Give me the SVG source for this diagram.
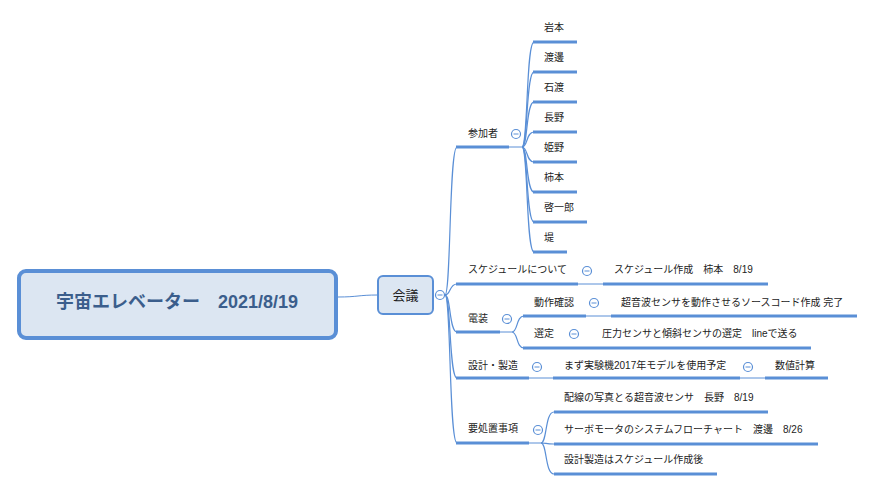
<svg xmlns="http://www.w3.org/2000/svg" width="874" height="491" viewBox="0 0 874 491">
<style>
text{font-family:"Liberation Sans","Noto Sans CJK JP",sans-serif;fill:#222;font-size:10px}
.root{font-size:18px;font-weight:bold;fill:#3b5e8c}
.mid{font-size:13px}
.ul{stroke:#5a8fd6;stroke-width:3;fill:none}
.cv{stroke:#5a8fd6;stroke-width:1.2;fill:none}
.th{stroke:#5a8fd6;stroke-width:1;fill:none}
.col{fill:#fff;stroke:#5a8fd6;stroke-width:1.2}
.mn{stroke:#5a8fd6;stroke-width:1}
</style>
<defs>
<g id="c"><circle class="col" cx="0" cy="0" r="4.5"/><line class="mn" x1="-2.5" y1="0" x2="2.5" y2="0"/></g>
</defs>
<rect width="874" height="491" fill="#fff"/>
<g id="connectors">
<path class="th" d="M338,297 C358,297 358,295 378,295"/>
<path class="cv" d="M445,295 C451,295 449,147 457,147"/>
<path class="cv" d="M445,295 C451,295 449,284 457,284"/>
<path class="cv" d="M445,295 C451,295 449,332 457,332"/>
<path class="cv" d="M445,295 C451,295 449,378 457,378"/>
<path class="cv" d="M445,295 C451,295 449,443 457,443"/>
<path class="th" d="M509,147 H522"/>
<path class="cv" d="M522,147 C528,147 526,42 534,42"/>
<path class="cv" d="M522,147 C528,147 526,72 534,72"/>
<path class="cv" d="M522,147 C528,147 526,102 534,102"/>
<path class="cv" d="M522,147 C528,147 526,132 534,132"/>
<path class="cv" d="M522,147 C528,147 526,162 534,162"/>
<path class="cv" d="M522,147 C528,147 526,192 534,192"/>
<path class="cv" d="M522,147 C528,147 526,222 534,222"/>
<path class="cv" d="M522,147 C528,147 526,252 534,252"/>
<path class="th" d="M578,284 H603"/>
<path class="th" d="M500,332 H512"/>
<path class="cv" d="M512,332 C518,332 516,316 524,316"/>
<path class="cv" d="M512,332 C518,332 516,348 524,348"/>
<path class="th" d="M586,316 H611"/>
<path class="th" d="M529,378 H553"/>
<path class="th" d="M740,378 H765"/>
<path class="th" d="M529,443 H541"/>
<path class="cv" d="M541,443 C547,443 545,412 554,412"/>
<path class="cv" d="M541,443 C547,443 545,444 554,444"/>
<path class="cv" d="M541,443 C547,443 545,474 554,474"/>
</g>
<g id="root">
<rect x="19" y="271" width="317" height="67" rx="7" fill="#dce6f2" stroke="#5a8fd6" stroke-width="4"/>
<text class="root" x="177" y="308" text-anchor="middle">宇宙エレベーター　2021/8/19</text>
</g>
<g id="kaigi">
<rect x="378" y="276" width="55" height="38" rx="5" fill="#dce6f2" stroke="#5a8fd6" stroke-width="2"/>
<text class="mid" x="405.5" y="299.5" text-anchor="middle">会議</text>
<use href="#c" x="440" y="295"/>
</g>
<g id="sankasha">
<text x="468" y="137">参加者</text>
<line class="ul" x1="456" y1="147" x2="509" y2="147"/>
<use href="#c" x="516" y="134"/>
</g>
<g id="iwamoto"><text x="544" y="31">岩本</text><line class="ul" x1="533" y1="42" x2="577" y2="42"/></g>
<g id="watanabe"><text x="544" y="61">渡邊</text><line class="ul" x1="533" y1="72" x2="577" y2="72"/></g>
<g id="ishiwata"><text x="544" y="91">石渡</text><line class="ul" x1="533" y1="102" x2="577" y2="102"/></g>
<g id="nagano"><text x="544" y="121">長野</text><line class="ul" x1="533" y1="132" x2="577" y2="132"/></g>
<g id="himeno"><text x="544" y="151">姫野</text><line class="ul" x1="533" y1="162" x2="577" y2="162"/></g>
<g id="kakimoto"><text x="544" y="181">柿本</text><line class="ul" x1="533" y1="192" x2="577" y2="192"/></g>
<g id="keiichiro"><text x="544" y="211">啓一郎</text><line class="ul" x1="533" y1="222" x2="587" y2="222"/></g>
<g id="tsutsumi"><text x="544" y="241">堤</text><line class="ul" x1="533" y1="252" x2="567" y2="252"/></g>
<g id="schedule">
<text x="468" y="273">スケジュールについて</text>
<line class="ul" x1="456" y1="284" x2="578" y2="284"/>
<use href="#c" x="587" y="271"/>
</g>
<g id="schedule-sakusei">
<text x="614" y="273">スケジュール作成　柿本　8/19</text>
<line class="ul" x1="603" y1="284" x2="768" y2="284"/>
</g>
<g id="denso">
<text x="468" y="322">電装</text>
<line class="ul" x1="456" y1="332" x2="500" y2="332"/>
<use href="#c" x="507" y="319"/>
</g>
<g id="dosa">
<text x="534" y="306">動作確認</text>
<line class="ul" x1="523" y1="316" x2="586" y2="316"/>
<use href="#c" x="594" y="303"/>
</g>
<g id="dosa-child">
<text x="621" y="306">超音波センサを動作させるソースコード作成 完了</text>
<line class="ul" x1="611" y1="316" x2="857" y2="316"/>
</g>
<g id="sentei">
<text x="534" y="337">選定</text>
<line class="ul" x1="523" y1="348" x2="590" y2="348"/>
<use href="#c" x="574" y="334"/>
</g>
<g id="sentei-child">
<text x="602" y="337">圧力センサと傾斜センサの選定　lineで送る</text>
<line class="ul" x1="590" y1="348" x2="811" y2="348"/>
</g>
<g id="sekkei">
<text x="468" y="369">設計・製造</text>
<line class="ul" x1="456" y1="378" x2="529" y2="378"/>
<use href="#c" x="537" y="367"/>
</g>
<g id="jikkenki">
<text x="564" y="369">まず実験機2017年モデルを使用予定</text>
<line class="ul" x1="553" y1="378" x2="740" y2="378"/>
<use href="#c" x="748" y="367"/>
</g>
<g id="suchi">
<text x="775" y="369">数値計算</text>
<line class="ul" x1="765" y1="378" x2="828" y2="378"/>
</g>
<g id="yoshochi">
<text x="468" y="432">要処置事項</text>
<line class="ul" x1="456" y1="443" x2="529" y2="443"/>
<use href="#c" x="538" y="430"/>
</g>
<g id="haisen"><text x="564" y="401">配線の写真とる超音波センサ　長野　8/19</text><line class="ul" x1="554" y1="412" x2="768" y2="412"/></g>
<g id="servo"><text x="564" y="433">サーボモータのシステムフローチャート　渡邊　8/26</text><line class="ul" x1="554" y1="444" x2="818" y2="444"/></g>
<g id="sekkeiseizo"><text x="564" y="463">設計製造はスケジュール作成後</text><line class="ul" x1="554" y1="474" x2="717" y2="474"/></g>
</svg>
